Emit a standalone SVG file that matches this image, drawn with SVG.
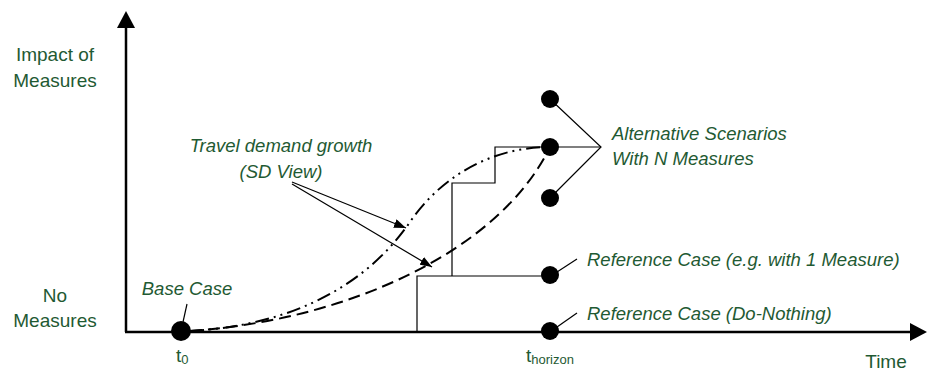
<svg xmlns="http://www.w3.org/2000/svg" width="928" height="372" viewBox="0 0 928 372">
<style>
.lbl{font-family:"Liberation Sans",Arial,sans-serif;fill:#1f5a33;font-size:19px}
.it{font-family:"Liberation Sans",Arial,sans-serif;fill:#1f5a33;font-size:18.5px;font-style:italic}
.ax{stroke:#000;stroke-width:2.5;fill:none}
.thin{stroke:#000;stroke-width:1.2;fill:none}
.dot{fill:#000}
</style>
<defs>
<marker id="ah" markerWidth="12" markerHeight="9" refX="12" refY="4.5" orient="auto" markerUnits="userSpaceOnUse">
<path d="M0,0 L12,4.5 L0,9 Z" fill="#000"/>
</marker>
</defs>
<g id="axes">
<line class="ax" x1="126" y1="332" x2="126" y2="26"/>
<path d="M117,28 L126,11 L135,28 Z" fill="#000"/>
<line class="ax" x1="125" y1="332" x2="912" y2="332"/>
<path d="M910,323 L927,332 L910,341 Z" fill="#000"/>
</g>
<g id="axis-labels">
<text class="lbl" x="55" y="61" text-anchor="middle">Impact of</text>
<text class="lbl" x="55" y="87" text-anchor="middle">Measures</text>
<text class="lbl" x="55" y="302" text-anchor="middle">No</text>
<text class="lbl" x="55" y="327" text-anchor="middle">Measures</text>
<text class="lbl" x="886" y="368" text-anchor="middle">Time</text>
<text class="lbl" x="176" y="362">t<tspan font-size="13" dy="2">0</tspan></text>
<text class="lbl" x="526" y="362">t<tspan font-size="13" dy="2">horizon</tspan></text>
</g>
<g id="connectors">
<path class="thin" d="M417,332 L417,276 L550,276"/>
<path class="thin" d="M452,276 L452,183 L495,183 L495,147 L601,147"/>
<path class="thin" d="M550,99 L601,147 L550,198"/>
<path d="M190,331 C300,325 370,280 410,222 C440,178 490,147 550,147" fill="none" stroke="#000" stroke-width="2" stroke-dasharray="14 5 2 5 2 5"/>
<path d="M190,331 C350,320 500,250 550,147" fill="none" stroke="#000" stroke-width="2" stroke-dasharray="12 6"/>
<line class="thin" x1="292" y1="182" x2="406" y2="228" marker-end="url(#ah)"/>
<line class="thin" x1="292" y1="184" x2="432" y2="267" marker-end="url(#ah)"/>
<line class="thin" x1="187" y1="304" x2="183" y2="322"/>
<line class="thin" x1="557" y1="272" x2="577" y2="259"/>
<line class="thin" x1="557" y1="327" x2="577" y2="313"/>
</g>
<g id="base-case">
<circle class="dot" cx="181" cy="331" r="10"/>
<text class="it" x="187" y="295" text-anchor="middle">Base Case</text>
</g>
<g id="alternative-scenarios">
<circle class="dot" cx="550" cy="99" r="9"/>
<circle class="dot" cx="550" cy="147" r="9"/>
<circle class="dot" cx="550" cy="198" r="9"/>
<text class="it" x="612" y="140">Alternative Scenarios</text>
<text class="it" x="612" y="165">With N Measures</text>
</g>
<g id="reference-case-1">
<circle class="dot" cx="550" cy="275" r="9"/>
<text class="it" x="587" y="266">Reference Case (e.g. with 1 Measure)</text>
</g>
<g id="reference-case-do-nothing">
<circle class="dot" cx="550" cy="331" r="9"/>
<text class="it" x="587" y="320">Reference Case (Do-Nothing)</text>
</g>
<g id="travel-demand">
<text class="it" x="281" y="152" text-anchor="middle">Travel demand growth</text>
<text class="it" x="281" y="178" text-anchor="middle">(SD View)</text>
</g>
</svg>
